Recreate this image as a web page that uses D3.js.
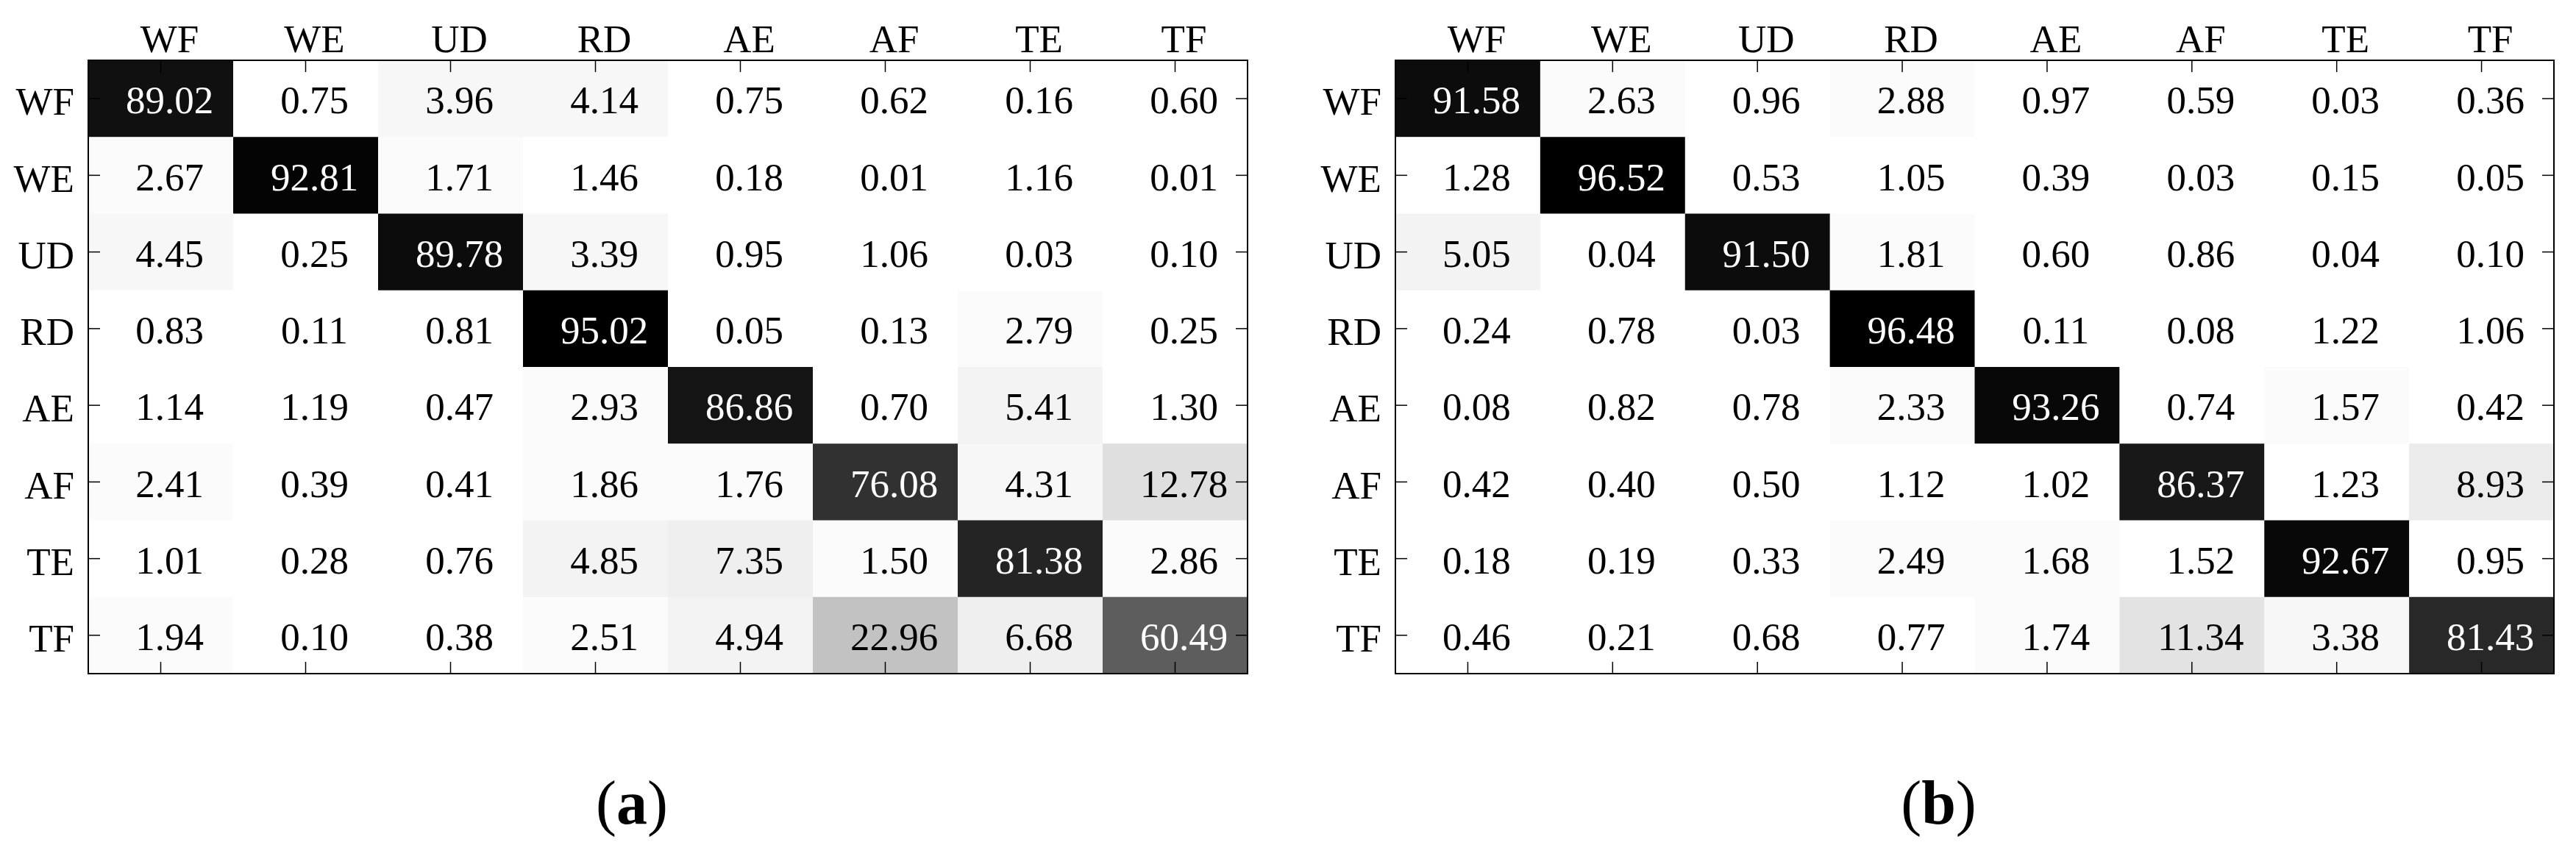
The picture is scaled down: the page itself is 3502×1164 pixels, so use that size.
<!DOCTYPE html>
<html>
<head>
<meta charset="utf-8">
<script src="https://cdn.jsdelivr.net/npm/d3@7"></script>
<style>
  html, body { margin: 0; padding: 0; background: #fff; }
  svg { display: block; }
  text { font-family: "Liberation Serif", "Times New Roman", serif; }
</style>
</head>
<body>
<svg id="chart" width="3502" height="1164"></svg>
<script>
// ---- data ----
const classes = ["WF", "WE", "UD", "RD", "AE", "AF", "TE", "TF"];

const matrixA = [
  [89.02, 0.75, 3.96, 4.14, 0.75, 0.62, 0.16, 0.60],
  [2.67, 92.81, 1.71, 1.46, 0.18, 0.01, 1.16, 0.01],
  [4.45, 0.25, 89.78, 3.39, 0.95, 1.06, 0.03, 0.10],
  [0.83, 0.11, 0.81, 95.02, 0.05, 0.13, 2.79, 0.25],
  [1.14, 1.19, 0.47, 2.93, 86.86, 0.70, 5.41, 1.30],
  [2.41, 0.39, 0.41, 1.86, 1.76, 76.08, 4.31, 12.78],
  [1.01, 0.28, 0.76, 4.85, 7.35, 1.50, 81.38, 2.86],
  [1.94, 0.10, 0.38, 2.51, 4.94, 22.96, 6.68, 60.49]
];

const matrixB = [
  [91.58, 2.63, 0.96, 2.88, 0.97, 0.59, 0.03, 0.36],
  [1.28, 96.52, 0.53, 1.05, 0.39, 0.03, 0.15, 0.05],
  [5.05, 0.04, 91.50, 1.81, 0.60, 0.86, 0.04, 0.10],
  [0.24, 0.78, 0.03, 96.48, 0.11, 0.08, 1.22, 1.06],
  [0.08, 0.82, 0.78, 2.33, 93.26, 0.74, 1.57, 0.42],
  [0.42, 0.40, 0.50, 1.12, 1.02, 86.37, 1.23, 8.93],
  [0.18, 0.19, 0.33, 2.49, 1.68, 1.52, 92.67, 0.95],
  [0.46, 0.21, 0.68, 0.77, 1.74, 11.34, 3.38, 81.43]
];

const panelLabels = ["a", "b"];

// ---- layout ----
const svg = d3.select("#chart");
const panels = [
  { data: matrixA, left: 120, top: 82, width: 1576, height: 834, label: panelLabels[0] },
  { data: matrixB, left: 1897, top: 82, width: 1575, height: 834, label: panelLabels[1] }
];
const FS = 53;
const textDx = 12;

// 64-level inverted gray colormap
const levels = 64;
const grays = d3.range(levels).map(i => {
  const g = Math.round(255 * (1 - i / (levels - 1)));
  return d3.rgb(g, g, g).formatHex();
});

panels.forEach(p => {
  const g = svg.append("g").attr("transform", `translate(${p.left},${p.top})`);
  const x = d3.scaleBand().domain(classes).range([0, p.width]).padding(0);
  const y = d3.scaleBand().domain(classes).range([0, p.height]).padding(0);
  const flat = p.data.flat();
  const color = d3.scaleQuantize().domain([d3.min(flat), d3.max(flat)]).range(grays);

  const cells = [];
  p.data.forEach((row, i) => row.forEach((v, j) => cells.push({ r: classes[i], c: classes[j], v })));

  g.selectAll("rect.cell").data(cells).join("rect")
    .attr("class", "cell")
    .attr("x", d => x(d.c))
    .attr("y", d => y(d.r))
    .attr("width", x.bandwidth() + 0.5)
    .attr("height", y.bandwidth() + 0.5)
    .attr("fill", d => color(d.v));

  g.selectAll("text.val").data(cells).join("text")
    .attr("class", "val")
    .attr("x", d => x(d.c) + x.bandwidth() / 2 + textDx)
    .attr("y", d => y(d.r) + y.bandwidth() / 2)
    .attr("dy", "0.38em")
    .attr("text-anchor", "middle")
    .attr("font-size", FS)
    .attr("fill", d => d.v > 50 ? "#fff" : "#000")
    .text(d => d.v.toFixed(2));

  // axes with inward ticks
  const tl = 16;
  const top = g.append("g").call(d3.axisTop(x).tickSizeInner(-tl).tickSizeOuter(0).tickPadding(11));
  top.selectAll("text").attr("dx", textDx).attr("font-size", FS).attr("font-family", "Liberation Serif").attr("fill", "#000");
  const leftAx = g.append("g").call(d3.axisLeft(y).tickSizeInner(-tl).tickSizeOuter(0).tickPadding(19));
  leftAx.selectAll("text").attr("dy", "0.42em").attr("font-size", FS).attr("font-family", "Liberation Serif").attr("fill", "#000");
  const bottom = g.append("g").attr("transform", `translate(0,${p.height})`)
    .call(d3.axisBottom(x).tickSizeInner(-tl).tickSizeOuter(0).tickFormat(""));
  const rightAx = g.append("g").attr("transform", `translate(${p.width},0)`)
    .call(d3.axisRight(y).tickSizeInner(-tl).tickSizeOuter(0).tickFormat(""));
  [top, leftAx, bottom, rightAx].forEach(a => {
    a.select(".domain").remove();
    a.selectAll(".tick line").attr("stroke", "#000").attr("stroke-width", 1.5);
  });

  g.append("rect")
    .attr("x", 0).attr("y", 0)
    .attr("width", p.width).attr("height", p.height)
    .attr("fill", "none").attr("stroke", "#000").attr("stroke-width", 2);

  // caption
  const cap = svg.append("text")
    .attr("x", p.left + p.width / 2 - 49)
    .attr("y", 1120)
    .attr("text-anchor", "middle")
    .attr("font-size", 84)
    .attr("fill", "#000");
  cap.append("tspan").text("(");
  cap.append("tspan").attr("font-weight", "bold").text(p.label);
  cap.append("tspan").text(")");
});
</script>
</body>
</html>
